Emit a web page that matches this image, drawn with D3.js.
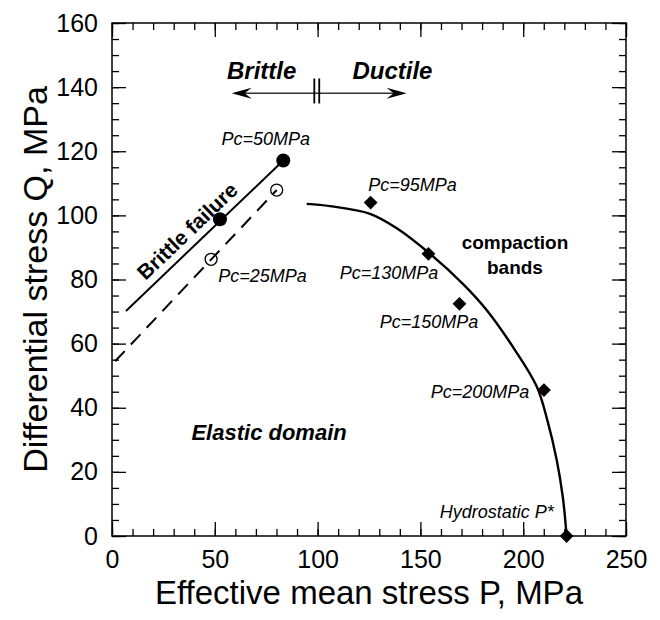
<!DOCTYPE html>
<html>
<head>
<meta charset="utf-8">
<script src="https://cdn.jsdelivr.net/npm/d3@7"></script>
<style>
body { margin: 0; background: #fff; }
text { font-family: "Liberation Sans", Arial, Helvetica, sans-serif; }
</style>
</head>
<body>
<div id="chart"></div>
<script>
// values: P = effective mean stress, Q = differential stress (MPa)
var xTicks = [0, 50, 100, 150, 200, 250];
var yTicks = [0, 20, 40, 60, 80, 100, 120, 140, 160];

// Pc=50MPa brittle failure points and fitted line
var brittleP = [52.5, 83.3];
var brittleQ = [98.8, 117.1];
var brittleLineP = [6.8, 83.3];
var brittleLineQ = [70.2, 117.1];

// Pc=25MPa brittle failure points and line
var openP = [48.2, 80.1];
var openQ = [86.3, 107.9];
var dashLineP = [1.5, 80.1];
var dashLineQ = [54.5, 107.9];

// compactive yield cap
var capP = [94.7, 106, 125.5, 138.5, 153.8, 170.9, 182.2, 196, 206.6, 211.8, 216.3, 219.3, 221.1];
var capQ = [103.6, 102.9, 100.5, 96, 88.5, 78.5, 70.5, 58, 46.6, 36, 23.7, 12, 0];

// compaction band onset
var ductileP = [125.8, 153.9, 169.0, 210.1, 221.1];
var ductileQ = [104.0, 88.0, 72.4, 45.5, 0];
var ductileLabels = ["Pc=95MPa", "Pc=130MPa", "Pc=150MPa", "Pc=200MPa", "Hydrostatic P*"];

var margin = { top: 23, right: 34, bottom: 84, left: 112 },
    width = 660 - margin.left - margin.right,
    height = 620 - margin.top - margin.bottom;

var x = d3.scaleLinear().domain([0, 250]).range([0, width]);
var y = d3.scaleLinear().domain([0, 160]).range([height, 0]);

var svg = d3.select("#chart")
    .append("svg")
        .attr("width", 660)
        .attr("height", 620)
    .append("g")
        .attr("transform", "translate(" + margin.left + "," + margin.top + ")");

// ticks pointing inwards on all four sides
function tickAxis(axis, values, size, translate) {
    var g = svg.append("g")
        .attr("transform", translate)
        .call(axis.tickValues(values).tickSize(-size).tickFormat("").tickSizeOuter(0));
    g.select(".domain").remove();
    g.selectAll("line").attr("stroke", "#000").attr("stroke-width", 1.3);
    return g;
}

var xMinor = d3.range(0, 251, 10), yMinor = d3.range(0, 161, 5);
tickAxis(d3.axisBottom(x), xMinor, 7, "translate(0," + height + ")");
tickAxis(d3.axisBottom(x), xTicks, 14, "translate(0," + height + ")");
tickAxis(d3.axisTop(x), xMinor, 7, "translate(0,0)");
tickAxis(d3.axisTop(x), xTicks, 14, "translate(0,0)");
tickAxis(d3.axisLeft(y), yMinor, 7, "translate(0,0)");
tickAxis(d3.axisLeft(y), yTicks, 14, "translate(0,0)");
tickAxis(d3.axisRight(y), yMinor, 7, "translate(" + width + ",0)");
tickAxis(d3.axisRight(y), yTicks, 14, "translate(" + width + ",0)");

// tick labels
var xLab = svg.append("g")
    .attr("transform", "translate(0," + height + ")")
    .call(d3.axisBottom(x).tickValues(xTicks).tickSize(0).tickPadding(14));
xLab.select(".domain").remove();
xLab.attr("font-family", null).attr("font-size", 25);

var yLab = svg.append("g")
    .call(d3.axisLeft(y).tickValues(yTicks).tickSize(0).tickPadding(14));
yLab.select(".domain").remove();
yLab.attr("font-family", null).attr("font-size", 25);

// frame
svg.append("rect")
    .attr("width", width)
    .attr("height", height)
    .attr("fill", "none")
    .attr("stroke", "#000")
    .attr("stroke-width", 1.5);

// axis titles
svg.append("text")
    .attr("text-anchor", "middle")
    .attr("x", width / 2)
    .attr("y", height + 68)
    .style("font-size", "33px")
    .text("Effective mean stress P, MPa");

svg.append("text")
    .attr("text-anchor", "middle")
    .attr("transform", "translate(" + (47 - margin.left) + "," + (height / 2) + ") rotate(-90)")
    .style("font-size", "34px")
    .text("Differential stress Q, MPa");

var line = d3.line()
    .x(function (d) { return x(d[0]); })
    .y(function (d) { return y(d[1]); });

// brittle lines
svg.append("path")
    .datum(d3.zip(brittleLineP, brittleLineQ))
    .attr("d", line)
    .attr("fill", "none")
    .attr("stroke", "#000")
    .attr("stroke-width", 2);

svg.append("path")
    .datum(d3.zip(dashLineP, dashLineQ))
    .attr("d", line)
    .attr("fill", "none")
    .attr("stroke", "#000")
    .attr("stroke-width", 2)
    .attr("stroke-dasharray", "14,9");

// cap curve
svg.append("path")
    .datum(d3.zip(capP, capQ))
    .attr("d", line.curve(d3.curveCatmullRom.alpha(0.5)))
    .attr("fill", "none")
    .attr("stroke", "#000")
    .attr("stroke-width", 2.4);

// points
svg.selectAll(".filled")
    .data(d3.zip(brittleP, brittleQ))
    .enter().append("circle")
    .attr("cx", function (d) { return x(d[0]); })
    .attr("cy", function (d) { return y(d[1]); })
    .attr("r", 7)
    .attr("fill", "#000");

svg.selectAll(".open")
    .data(d3.zip(openP, openQ))
    .enter().append("circle")
    .attr("cx", function (d) { return x(d[0]); })
    .attr("cy", function (d) { return y(d[1]); })
    .attr("r", 6)
    .attr("fill", "none")
    .attr("stroke", "#000")
    .attr("stroke-width", 1.3);

svg.selectAll(".diamond")
    .data(d3.zip(ductileP, ductileQ))
    .enter().append("path")
    .attr("d", d3.symbol().type(d3.symbolSquare).size(95))
    .attr("transform", function (d) { return "translate(" + x(d[0]) + "," + y(d[1]) + ") rotate(45)"; })
    .attr("fill", "#000");

// point labels (italic)
var labelPos = [[146.2, 107.7], [134.7, 80.1], [154.2, 64.8], [179, 43], [187.1, 5.6]];
svg.selectAll(".plabel")
    .data(ductileLabels)
    .enter().append("text")
    .attr("text-anchor", "middle")
    .attr("x", function (d, i) { return x(labelPos[i][0]); })
    .attr("y", function (d, i) { return y(labelPos[i][1]); })
    .style("font-size", "18px")
    .style("font-style", "italic")
    .text(function (d) { return d; });

svg.append("text")
    .attr("text-anchor", "middle")
    .attr("x", x(74.8)).attr("y", y(122))
    .style("font-size", "18px").style("font-style", "italic")
    .text("Pc=50MPa");

svg.append("text")
    .attr("text-anchor", "middle")
    .attr("x", x(73.2)).attr("y", y(79.3))
    .style("font-size", "18px").style("font-style", "italic")
    .text("Pc=25MPa");

// region labels
svg.append("text")
    .attr("text-anchor", "middle")
    .attr("x", x(76.4)).attr("y", y(30))
    .style("font-size", "22px").style("font-style", "italic").style("font-weight", "bold")
    .text("Elastic domain");

var comp = svg.append("text")
    .attr("text-anchor", "middle")
    .style("font-size", "19px").style("font-weight", "bold");
comp.append("tspan").attr("x", x(196)).attr("y", y(89.5)).text("compaction");
comp.append("tspan").attr("x", x(196)).attr("y", y(81.7)).text("bands");

// "Brittle failure" along the solid line
var angle = Math.atan2(y(brittleLineQ[1]) - y(brittleLineQ[0]), x(brittleLineP[1]) - x(brittleLineP[0])) * 180 / Math.PI;
var slope = (brittleLineQ[1] - brittleLineQ[0]) / (brittleLineP[1] - brittleLineP[0]);
var tp = 41.8, tq = brittleLineQ[0] + slope * (tp - brittleLineP[0]);
svg.append("text")
    .attr("text-anchor", "middle")
    .attr("transform", "translate(" + x(tp) + "," + y(tq) + ") rotate(" + angle + ")")
    .attr("y", -8)
    .style("font-size", "21px").style("font-weight", "bold")
    .text("Brittle failure");

// Brittle | Ductile arrow
var ay = y(138.1), ax0 = x(58.2), ax1 = x(143.3), bar0 = x(98.4), bar1 = x(100.8);
svg.append("line")
    .attr("x1", ax0 + 10).attr("x2", ax1 - 10)
    .attr("y1", ay).attr("y2", ay)
    .attr("stroke", "#333").attr("stroke-width", 1.6);
svg.append("path")
    .attr("d", "M" + ax0 + "," + ay + "l20,-5.5l-7,5.5l7,5.5z")
    .attr("fill", "#000");
svg.append("path")
    .attr("d", "M" + ax1 + "," + ay + "l-20,-5.5l7,5.5l-7,5.5z")
    .attr("fill", "#000");
[bar0, bar1].forEach(function (bx) {
    svg.append("line")
        .attr("x1", bx).attr("x2", bx)
        .attr("y1", y(142.7)).attr("y2", y(134.9))
        .attr("stroke", "#000").attr("stroke-width", 1.8);
});

svg.append("text")
    .attr("text-anchor", "middle")
    .attr("x", x(72.8)).attr("y", y(142.5))
    .style("font-size", "24px").style("font-style", "italic").style("font-weight", "bold")
    .text("Brittle");
svg.append("text")
    .attr("text-anchor", "middle")
    .attr("x", x(136.4)).attr("y", y(142.5))
    .style("font-size", "24px").style("font-style", "italic").style("font-weight", "bold")
    .text("Ductile");
</script>
</body>
</html>
